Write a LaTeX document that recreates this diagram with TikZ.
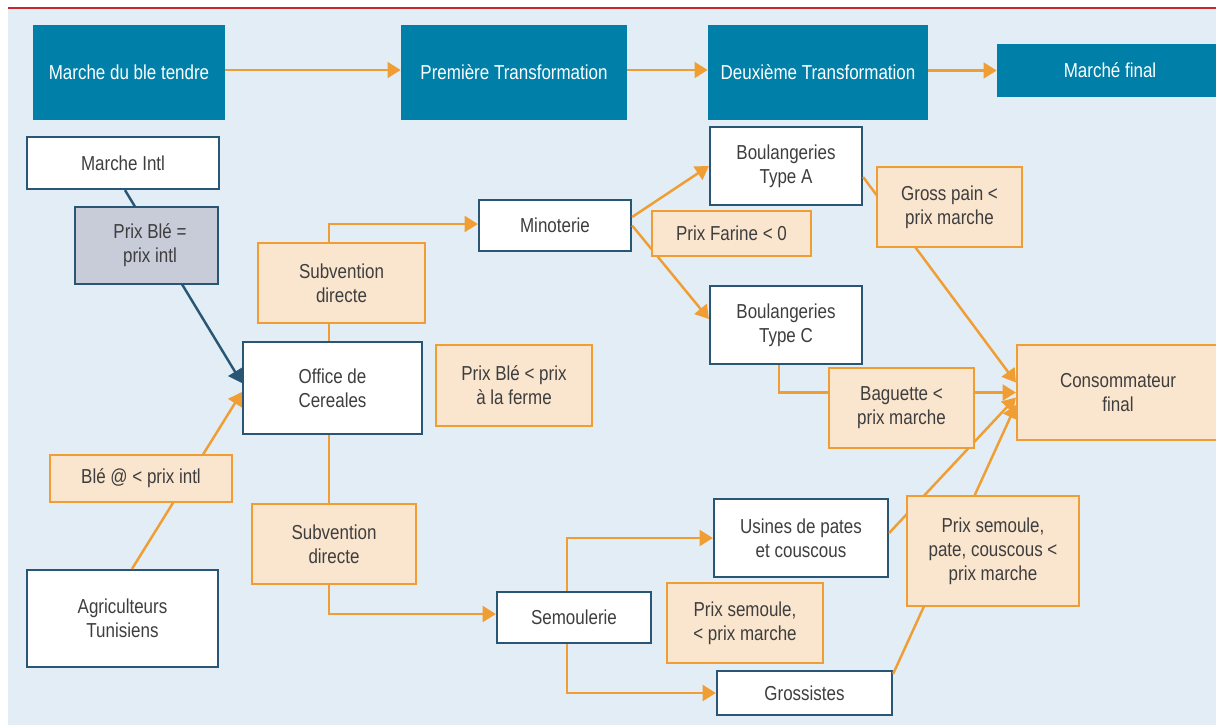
\documentclass[tikz,border=0pt]{standalone}
\usepackage{fontspec}
\setmainfont{Liberation Sans}[FakeStretch=0.84]
\usetikzlibrary{arrows.meta}

\definecolor{headblue}{RGB}{0,127,168}
\definecolor{paleblue}{RGB}{226,237,246}
\definecolor{navy}{RGB}{42,86,118}
\definecolor{flowor}{RGB}{240,158,52}
\definecolor{peach}{RGB}{250,229,206}
\definecolor{slate}{RGB}{200,204,217}
\definecolor{ink}{RGB}{62,62,62}
\definecolor{rulered}{RGB}{200,40,45}

\begin{document}
\begin{tikzpicture}[x = 0.02cm, y = -0.02cm,
        every node/.append style = {font = \fontsize{11.5}{13.6}\selectfont},
        dims/.style 2 args = {minimum width = #1cm, minimum height = #2cm},
        head/.style = {fill = headblue, text = white, inner sep = 0pt},
        actor/.style = {draw = navy, fill = white, line width = 1.3pt, text = ink, align = center, inner sep = 0pt},
        greybox/.style = {actor, fill = slate},
        price/.style = {draw = flowor, fill = peach, line width = 1.3pt, text = ink, align = center, inner sep = 0pt},
        flow/.style = {draw = flowor, line width = 1.4pt, -{Triangle[length = 7.5pt, width = 9pt]}},
        navyflow/.style = {flow, draw = navy}]
        \useasboundingbox (0,0) rectangle (1216,725);
        \fill[paleblue] (8,9) rectangle (1216,725);
        \draw[rulered, line width = 1.3pt] (8,8) -- (1216,8);
        % chaine de valeur
        \node[head, dims = {3.84}{1.9}] (mbt) at (129,72.5) {Marche du ble tendre};
        \node[head, dims = {4.52}{1.9}] (prem) at (514,72.5) {Première Transformation};
        \node[head, dims = {4.4}{1.9}] (deux) at (818,72.5) {Deuxième Transformation};
        \node[head, dims = {4.52}{1.06}] (mfin) at (1110,70.5) {Marché final};
        % acteurs
        \node[actor, dims = {3.84}{1.04}] (intl) at (123,163) {Marche Intl};
        \node[actor, dims = {3.58}{1.84}] (office) at (332.5,388) {Office de\\Cereales};
        \node[actor, dims = {3.82}{1.94}] (agri) at (122.5,618.5) {Agriculteurs\\Tunisiens};
        \node[actor, dims = {3.04}{1.02}] (minot) at (555,225.5) {Minoterie};
        \node[actor, dims = {3.08}{1.02}] (semou) at (574,617.5) {Semoulerie};
        \node[actor, dims = {3.04}{1.56}] (boulA) at (786,166) {Boulangeries\\Type A};
        \node[actor, dims = {3.04}{1.56}] (boulC) at (786,325) {Boulangeries\\Type C};
        \node[actor, dims = {3.48}{1.56}] (usines) at (801,538) {Usines de pates\\et couscous};
        \node[actor, dims = {3.5}{0.88}] (gross) at (804.5,693) {Grossistes};
        \node[price, dims = {4.04}{1.9}] (conso) at (1118,392.5) {Consommateur\\final};
        % flux
        \draw[flow] ([yshift = 0.05cm]mbt.east) -- ([yshift = 0.05cm]prem.west);
        \draw[flow] ([yshift = 0.05cm]prem.east) -- ([yshift = 0.05cm]deux.west);
        \draw[flow] (deux.east |- mfin.west) -- (mfin.west);
        \draw[navyflow] ([xshift = 0.04cm]intl.south) -- ([yshift = 0.1cm]office.west);
        \draw[flow] ([xshift = 0.19cm]agri.north) -- ([yshift = -0.08cm]office.west);
        \draw[flow] ([xshift = -0.07cm]office.north) |- ([yshift = 0.03cm]minot.west);
        \draw[flow] ([xshift = -0.07cm]office.south) |- ([yshift = 0.07cm]semou.west);
        \draw[flow] ([yshift = 0.17cm]minot.east) -- (boulA.west);
        \draw[flow] (minot.east) -- ([yshift = 0.12cm]boulC.west);
        \draw[flow] ([xshift = -0.14cm]semou.north) |- (usines.west);
        \draw[flow] ([xshift = -0.14cm]semou.south) |- (gross.west);
        \draw[flow] ([yshift = -0.22cm]boulA.east) -- ([yshift = 0.2cm]conso.west);
        \draw[flow] ([xshift = -0.14cm]boulC.south) |- (conso.west);
        \draw[flow] ([yshift = 0.1cm]usines.east) -- ([yshift = -0.1cm]conso.west);
        \draw[flow] ([yshift = -0.08cm]gross.north east) -- ([yshift = -0.25cm]conso.west);
        % prix
        \node[greybox, dims = {2.86}{1.54}] (pble) at (146.5,245.5) {\hspace{0.14cm}Prix Blé =\\\hspace{0.14cm}prix intl};
        \node[price, dims = {3.34}{1.6}] (subA) at (341.5,283) {Subvention\\directe};
        \node[price, dims = {3.28}{1.6}] (subB) at (334,544) {Subvention\\directe};
        \node[price, dims = {3.12}{1.62}] (ferme) at (514,385.5) {Prix Blé < prix\\à la ferme};
        \node[price, dims = {3.64}{0.94}] (bleat) at (141,478.5) {Blé @ < prix intl};
        \node[price, dims = {3.18}{0.9}] (farine) at (731.5,233.5) {Prix Farine < 0};
        \node[price, dims = {2.9}{1.6}] (pain) at (949.5,207) {Gross pain <\\prix marche};
        \node[price, dims = {2.9}{1.6}] (baguette) at (901.5,408) {Baguette <\\prix marche};
        \node[price, dims = {3.12}{1.6}] (psem) at (745,623) {Prix semoule,\\< prix marche};
        \node[price, dims = {3.44}{2.2}] (psp) at (993,551) {Prix semoule,\\pate, couscous <\\prix marche};
    \end{tikzpicture}
\end{document}
